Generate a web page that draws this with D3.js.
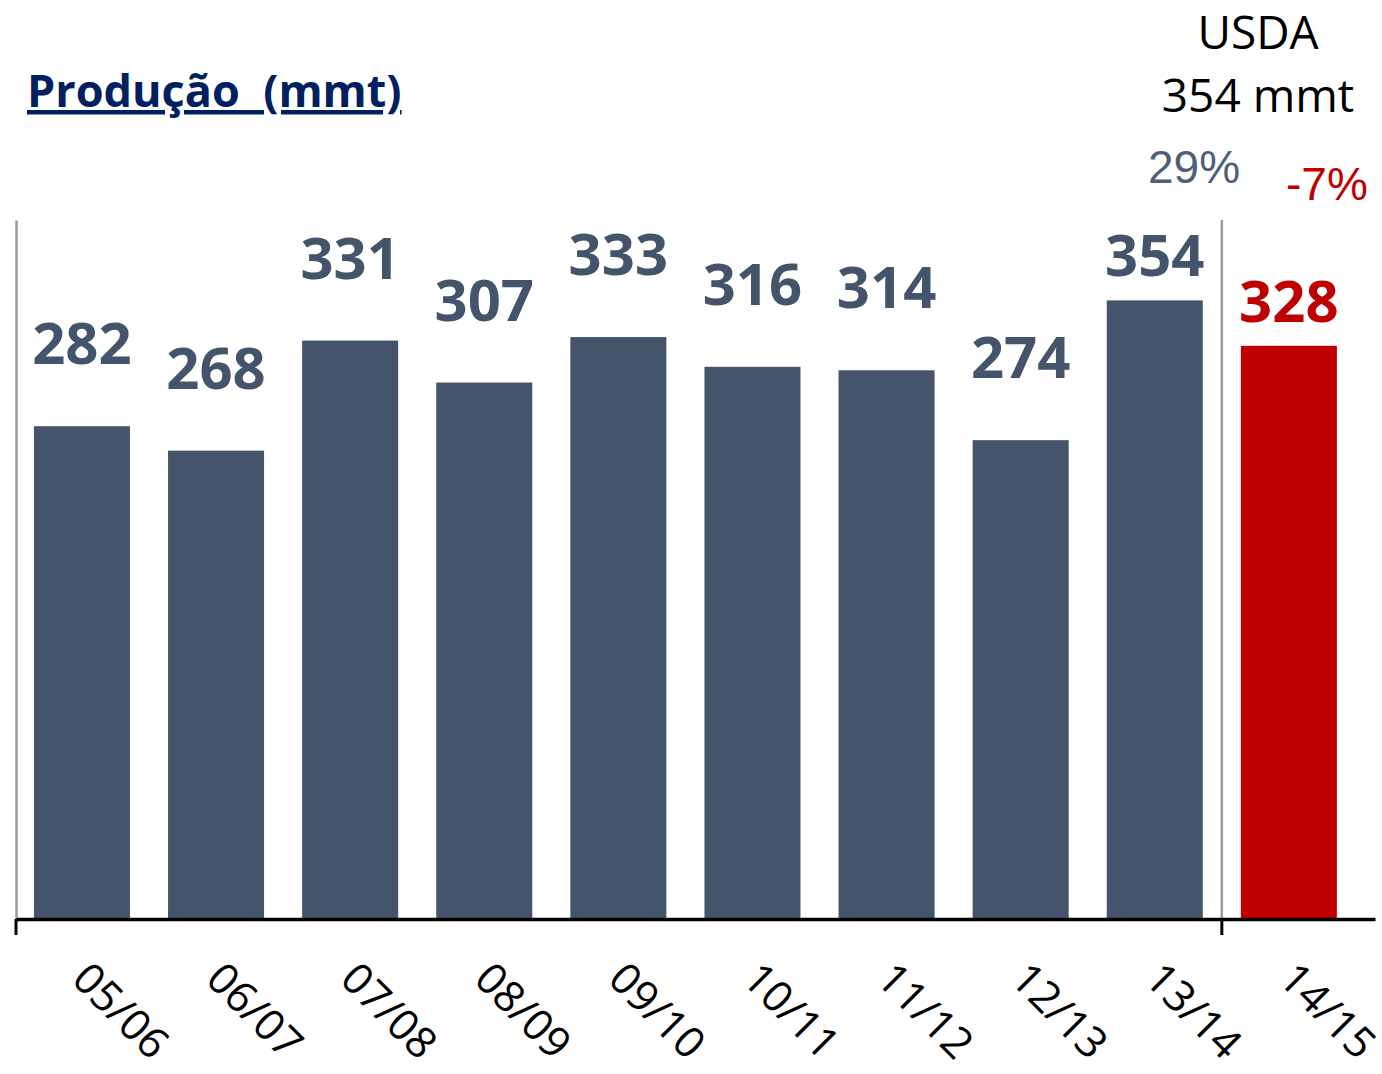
<!DOCTYPE html>
<html>
<head>
<meta charset="utf-8">
<script src="https://cdn.jsdelivr.net/npm/d3@7"></script>
<style>
  body { margin: 0; background: #fff; }
  svg { display: block; }
  .cal { font-family: "Open Sans", Lato, sans-serif; }
  .ari { font-family: Arial, "Liberation Sans", sans-serif; }
</style>
</head>
<body>
<div id="chart"></div>
<script>
// Safra labels and production (mmt)
const seasons = ["05/06", "06/07", "07/08", "08/09", "09/10", "10/11", "11/12", "12/13", "13/14", "14/15"];
const production = [282, 268, 331, 307, 333, 316, 314, 274, 354, 328];
const forecastSeason = "14/15";
const usdaNote = ["USDA", "354 mmt"];
const changeLabels = ["29%", "-7%"];

const data = seasons.map((s, i) => ({ season: s, value: production[i] }));

const W = 1382, H = 1074;
const baseY = 919, topY = 220;

const svg = d3.select("#chart")
  .append("svg")
  .attr("width", W)
  .attr("height", H);

const x = d3.scaleBand()
  .domain(seasons)
  .range([16, 1375])
  .paddingInner(0.284)
  .paddingOuter(0.209)
  .align(0.32);

const y = d3.scaleLinear()
  .domain([0, 400])
  .range([baseY, topY]);

const blue = "#44546a", red = "#c00000";
const colorOf = d => d.season === forecastSeason ? red : blue;

// left axis (gray line only)
svg.append("g")
  .attr("transform", "translate(16,0)")
  .call(d3.axisLeft(y).tickValues([]).tickSizeOuter(0))
  .select(".domain")
  .attr("stroke", "#9a9a9a")
  .attr("stroke-width", 2.5);

// divider before forecast
const divX = x(forecastSeason) - x.step() * x.paddingInner() / 2;
svg.append("line")
  .attr("x1", divX).attr("x2", divX)
  .attr("y1", y(400)).attr("y2", baseY)
  .attr("stroke", "#9a9a9a")
  .attr("stroke-width", 2.5);

// bars
svg.selectAll("rect.bar")
  .data(data)
  .join("rect")
  .attr("class", "bar")
  .attr("x", d => x(d.season))
  .attr("y", d => y(d.value))
  .attr("width", x.bandwidth())
  .attr("height", d => baseY - y(d.value))
  .attr("fill", colorOf);

// bottom axis
const xAxis = svg.append("g")
  .attr("transform", `translate(0,${baseY})`)
  .call(d3.axisBottom(x).tickSize(0).tickSizeOuter(0));
xAxis.select(".domain")
  .attr("stroke", "#000")
  .attr("stroke-width", 3.5);
xAxis.selectAll(".tick text")
  .attr("class", "cal")
  .attr("fill", "#000")
  .style("font-size", "43px")
  .attr("text-anchor", "start")
  .attr("transform", "translate(-12,62) rotate(45)")
  .attr("y", 0)
  .attr("dy", 0);

// small tick marks under the axis
[16, divX].forEach(tx => {
  svg.append("line")
    .attr("x1", tx).attr("x2", tx)
    .attr("y1", baseY).attr("y2", baseY + 16)
    .attr("stroke", "#000")
    .attr("stroke-width", 3);
});

// value labels (the last two sit tighter under the USDA note)
svg.selectAll("text.val")
  .data(data)
  .join("text")
  .attr("class", "val cal")
  .attr("x", d => x(d.season) + x.bandwidth() / 2)
  .attr("y", (d, i) => y(d.value) - (i >= seasons.length - 2 ? 24 : 62))
  .attr("text-anchor", "middle")
  .attr("fill", colorOf)
  .style("font-size", "58px")
  .style("font-weight", "bold")
  .text(d => d.value);

// title
svg.append("text")
  .attr("class", "cal")
  .attr("x", 27)
  .attr("y", 107)
  .attr("fill", "#002060")
  .style("font-size", "45px")
  .style("font-weight", "bold")
  .style("text-decoration", "underline")
  .style("white-space", "pre")
  .text("Produção  (mmt)");

// USDA note
svg.selectAll("text.usda")
  .data(usdaNote)
  .join("text")
  .attr("class", "usda cal")
  .attr("x", 1258)
  .attr("y", (d, i) => 49 + i * 63)
  .attr("text-anchor", "middle")
  .attr("fill", "#000")
  .style("font-size", "46px")
  .text(d => d);

// change labels
svg.append("text")
  .attr("class", "ari")
  .attr("x", 1148)
  .attr("y", 183)
  .attr("fill", "#4f5f78")
  .style("font-size", "46px")
  .text(changeLabels[0]);

svg.append("text")
  .attr("class", "ari")
  .attr("x", 1286)
  .attr("y", 200)
  .attr("fill", red)
  .style("font-size", "46px")
  .text(changeLabels[1]);
</script>
</body>
</html>
